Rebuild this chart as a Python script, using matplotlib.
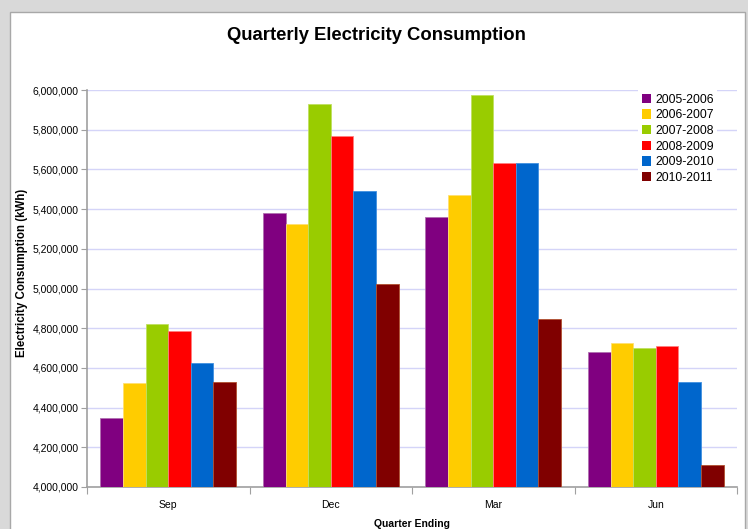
import numpy as np
import matplotlib.pyplot as plt
from matplotlib.patches import Patch, Rectangle
from matplotlib.ticker import FuncFormatter, MultipleLocator

plt.rcParams['font.family'] = ['Liberation Sans', 'DejaVu Sans']

# quarterly consumption, kWh
quarters = ['Sep', 'Dec', 'Mar', 'Jun']
years = ['2005-2006', '2006-2007', '2007-2008', '2008-2009', '2009-2010', '2010-2011']
fy_2005 = [4346000, 5378000, 5360000, 4679000]
fy_2006 = [4523000, 5323000, 5469000, 4723000]
fy_2007 = [4822000, 5929000, 5975000, 4701000]
fy_2008 = [4788000, 5766000, 5634000, 4708000]
fy_2009 = [4623000, 5489000, 5634000, 4529000]
fy_2010 = [4529000, 5025000, 4845000, 4113000]
series = [fy_2005, fy_2006, fy_2007, fy_2008, fy_2009, fy_2010]
colors = ['#800080', '#ffcc00', '#99cc00', '#ff0000', '#0066cc', '#800000']
edges = ['#b070b0', '#ffe070', '#c0e060', '#ff8080', '#4090e0', '#b05030']

W, H = 748, 529
fig = plt.figure(figsize=(W / 100, H / 100), dpi=100)
fig.patch.set_facecolor('#d9d9d9')
# white chart panel, drawn beneath the axes
fig.patches.append(Rectangle((10 / W, -0.01), 735 / W, (H - 12) / H + 0.01,
                             transform=fig.transFigure, facecolor='white',
                             edgecolor='#a8a8a8', linewidth=1, zorder=-1))

ax = fig.add_axes([87 / W, 42 / H, 650 / W, 397 / H])
ax.set_facecolor('none')

x = np.arange(len(quarters))
group = 0.835
w = group / len(series)
for i, (vals, c, ec) in enumerate(zip(series, colors, edges)):
    ax.bar(x - group / 2 + w * (i + 0.5), vals, width=w, color=c,
           edgecolor=ec, linewidth=0.6, label=years[i], zorder=3)

ax.set_ylim(4000000, 6000000)
ax.set_xlim(-0.5, 3.5)
ax.yaxis.set_major_locator(MultipleLocator(200000))
ax.yaxis.set_major_formatter(FuncFormatter(lambda v, p: f'{int(v):,}'))
ax.grid(axis='y', color='#d4d4f8', linewidth=1, zorder=1)

ax.set_xticks(np.arange(-0.5, 4, 1))
ax.set_xticklabels([])
ax.set_xticks(x, minor=True)
ax.set_xticklabels(quarters, minor=True, fontsize=7.5)
ax.tick_params(axis='x', which='minor', length=0, pad=9)
ax.tick_params(axis='x', which='major', length=5, color='#a0a0a0')
ax.tick_params(axis='y', length=4, color='#a0a0a0', labelsize=7.5, pad=2)

for s in ['top', 'right']:
    ax.spines[s].set_visible(False)
for s in ['left', 'bottom']:
    ax.spines[s].set_color('#a0a0a0')
    ax.spines[s].set_linewidth(1.2)

fig.text(376 / W, 1 - 36 / H, 'Quarterly Electricity Consumption', fontsize=13.3,
         fontweight='bold', ha='center', va='center')
ax.set_ylabel('Electricity Consumption (kWh)', fontsize=8.3, fontweight='bold',
              labelpad=3)
ax.yaxis.set_label_coords(-0.091, 0.54)
ax.set_xlabel('Quarter Ending', fontsize=7.5, fontweight='bold', labelpad=7)

handles = [Patch(facecolor=c, edgecolor='none') for c in colors]
leg = ax.legend(handles, years, loc='upper left', bbox_to_anchor=(0.848, 1.0),
                fontsize=8.7, frameon=True, fancybox=False, edgecolor='none',
                framealpha=1, handlelength=0.8, handleheight=0.8,
                handletextpad=0.3, labelspacing=0.3, borderpad=0.3,
                borderaxespad=0.0)
leg.set_zorder(5)

fig.savefig('out.png', dpi=100, facecolor=fig.get_facecolor())
